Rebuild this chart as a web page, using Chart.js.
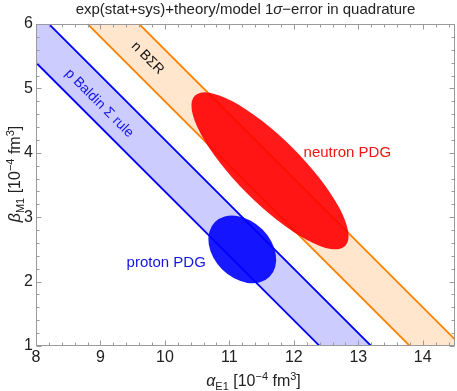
<!DOCTYPE html>
<html>
<head>
<meta charset="utf-8">
<script src="https://cdn.jsdelivr.net/npm/chart.js@4"></script>
<style>
  html, body { margin: 0; padding: 0; background: #fff; }
  #wrap { width: 457px; height: 391px; }
</style>
</head>
<body>
<div id="wrap"><canvas id="myChart"></canvas></div>
<script>
// axes
const xMin = 8, xMax = 14.5;
const yMin = 1, yMax = 6;
const xTicks = [8, 9, 10, 11, 12, 13, 14];
const yTicks = [1, 2, 3, 4, 5, 6];
const minorStep = 0.2;

// Baldin sum rule bands: alpha + beta between low and high
const bandNames = ['p Baldin Σ rule', 'n BΣR'];
const bandLow = [13.4, 14.8];
const bandHigh = [14.2, 15.6];
const bandLine = ['rgb(0,0,255)', 'rgb(255,128,0)'];
const bandFill = ['rgba(0,0,255,0.2)', 'rgba(255,128,0,0.2)'];

// PDG 1 sigma ellipses
const ellipseNames = ['proton PDG', 'neutron PDG'];
const ellipseAlpha = [11.2, 11.63];
const ellipseBeta = [2.5, 3.72];
const ellipseMajor = [0.6, 1.65];
const ellipseMinor = [0.44, 0.5];
const ellipseTilt = [-45, -45]; // degrees
const ellipseColor = ['rgba(0,0,255,0.9)', 'rgba(255,0,0,0.9)'];

// text labels (data coords)
const labelText = ['p Baldin Σ rule', 'n BΣR', 'neutron PDG', 'proton PDG'];
const labelX = [8.98, 9.73, 12.83, 10.02];
const labelY = [4.77, 5.47, 4.0, 2.29];
const labelRot = [45, 45, 0, 0];
const labelColor = ['rgb(20,20,230)', '#111', 'rgb(240,20,20)', 'rgb(20,20,230)'];
const labelSize = [14, 14, 15, 15];

const FONT = '"Liberation Sans", Arial, sans-serif';
Chart.defaults.font.family = FONT;

// band polygons, extended past the plot and clipped by the chart area
const datasets = [];
for (let i = 0; i < bandNames.length; i++) {
  const a0 = xMin - 1, a1 = xMax + 2;
  datasets.push({
    label: bandNames[i],
    data: [
      {x: a0, y: bandLow[i] - a0},
      {x: a1, y: bandLow[i] - a1},
      {x: a1, y: bandHigh[i] - a1},
      {x: a0, y: bandHigh[i] - a0}
    ],
    showLine: true,
    fill: 'shape',
    backgroundColor: bandFill[i],
    borderColor: bandLine[i],
    borderWidth: 1.8,
    pointRadius: 0,
    tension: 0,
    clip: 0
  });
}

function richText(ctx, parts, x, y, size, align) {
  const sub = Math.round(size * 0.7);
  let w = 0;
  parts.forEach(p => {
    const fs = (p.sub || p.sup) ? sub : size;
    ctx.font = (p.it ? 'italic ' : '') + fs + 'px ' + FONT;
    p.w = ctx.measureText(p.t).width;
    w += p.w;
  });
  let cx = align === 'center' ? x - w / 2 : x;
  parts.forEach(p => {
    const fs = (p.sub || p.sup) ? sub : size;
    ctx.font = (p.it ? 'italic ' : '') + fs + 'px ' + FONT;
    let dy = 0;
    if (p.sub) dy = size * 0.25;
    if (p.sup) dy = -size * 0.38;
    ctx.fillText(p.t, cx, y + dy);
    cx += p.w;
  });
}

const extras = {
  id: 'extras',
  afterDatasetsDraw(chart) {
    const ctx = chart.ctx;
    const xs = chart.scales.x, ys = chart.scales.y;
    const area = chart.chartArea;

    // ellipses
    const kx = xs.getPixelForValue(1) - xs.getPixelForValue(0);
    const ky = ys.getPixelForValue(1) - ys.getPixelForValue(0);
    for (let i = 0; i < ellipseNames.length; i++) {
      ctx.save();
      ctx.beginPath();
      ctx.rect(area.left, area.top, area.right - area.left, area.bottom - area.top);
      ctx.clip();
      ctx.translate(xs.getPixelForValue(ellipseAlpha[i]), ys.getPixelForValue(ellipseBeta[i]));
      ctx.transform(kx, 0, 0, ky, 0, 0);
      ctx.rotate(ellipseTilt[i] * Math.PI / 180);
      ctx.beginPath();
      ctx.ellipse(0, 0, ellipseMajor[i], ellipseMinor[i], 0, 0, 2 * Math.PI);
      ctx.setTransform(1, 0, 0, 1, 0, 0);
      ctx.fillStyle = ellipseColor[i];
      ctx.fill();
      ctx.restore();
    }

    // labels
    for (let i = 0; i < labelText.length; i++) {
      ctx.save();
      ctx.translate(xs.getPixelForValue(labelX[i]), ys.getPixelForValue(labelY[i]));
      ctx.rotate(labelRot[i] * Math.PI / 180);
      ctx.font = labelSize[i] + 'px ' + FONT;
      ctx.fillStyle = labelColor[i];
      ctx.textAlign = 'center';
      ctx.textBaseline = 'middle';
      ctx.fillText(labelText[i], 0, 0);
      ctx.restore();
    }

    // frame and inward ticks
    ctx.save();
    ctx.strokeStyle = '#9a9a9a';
    ctx.lineWidth = 1;
    const L = Math.round(area.left) + 0.5, R = Math.round(area.right) - 0.5;
    const T = Math.round(area.top) + 0.5, B = Math.round(area.bottom) - 0.5;
    ctx.strokeRect(L, T, R - L, B - T);
    ctx.beginPath();
    for (let v = xMin; v <= xMax + 1e-9; v += minorStep) {
      const major = Math.abs(v - Math.round(v)) < 1e-6;
      const len = major ? 5 : 3;
      const px = Math.round(xs.getPixelForValue(v)) + 0.5;
      ctx.moveTo(px, B); ctx.lineTo(px, B - len);
      ctx.moveTo(px, T); ctx.lineTo(px, T + len);
    }
    for (let v = yMin; v <= yMax + 1e-9; v += minorStep) {
      const major = Math.abs(v - Math.round(v)) < 1e-6;
      const len = major ? 5 : 3;
      const py = Math.round(ys.getPixelForValue(v)) + 0.5;
      ctx.moveTo(L, py); ctx.lineTo(L + len, py);
      ctx.moveTo(R, py); ctx.lineTo(R - len, py);
    }
    ctx.stroke();
    ctx.restore();

    // title and axis titles
    ctx.save();
    ctx.fillStyle = '#222';
    ctx.textBaseline = 'alphabetic';
    const midX = (area.left + area.right) / 2;
    richText(ctx, [{t: 'exp(stat+sys)+theory/model 1'}, {t: 'σ', it: true}, {t: '−error in quadrature'}],
      midX, 14, 15, 'center');
    richText(ctx, [{t: 'α', it: true}, {t: 'E1', sub: true}, {t: ' [10'}, {t: '−4', sup: true},
      {t: ' fm'}, {t: '3', sup: true}, {t: ']'}], midX + 8, 386, 16, 'center');
    ctx.translate(20, 174);
    ctx.rotate(-Math.PI / 2);
    richText(ctx, [{t: 'β', it: true}, {t: 'M1', sub: true}, {t: ' [10'}, {t: '−4', sup: true},
      {t: ' fm'}, {t: '3', sup: true}, {t: ']'}], 0, 0, 16, 'center');
    ctx.restore();
  }
};

const config = {
  type: 'scatter',
  data: { datasets: datasets },
  options: {
    responsive: true,
    maintainAspectRatio: false,
    animation: false,
    layout: { padding: { top: 24, right: 2, left: 0, bottom: 0 } },
    plugins: {
      legend: { display: false },
      title: { display: false },
      tooltip: { enabled: false }
    },
    scales: {
      x: {
        type: 'linear',
        min: xMin,
        max: xMax,
        afterBuildTicks: s => { s.ticks = xTicks.map(v => ({value: v})); },
        afterFit: s => { s.height = 45; },
        grid: { display: false, drawTicks: false },
        border: { display: false },
        ticks: { color: '#222', font: { size: 16 }, padding: 2, maxRotation: 0, autoSkip: false }
      },
      y: {
        type: 'linear',
        min: yMin,
        max: yMax,
        afterBuildTicks: s => { s.ticks = yTicks.map(v => ({value: v})); },
        afterFit: s => { s.width = 36; },
        grid: { display: false, drawTicks: false },
        border: { display: false },
        ticks: { color: '#222', font: { size: 16 }, padding: 3, autoSkip: false }
      }
    }
  },
  plugins: [extras]
};

const myChart = new Chart(document.getElementById('myChart'), config);
</script>
</body>
</html>
